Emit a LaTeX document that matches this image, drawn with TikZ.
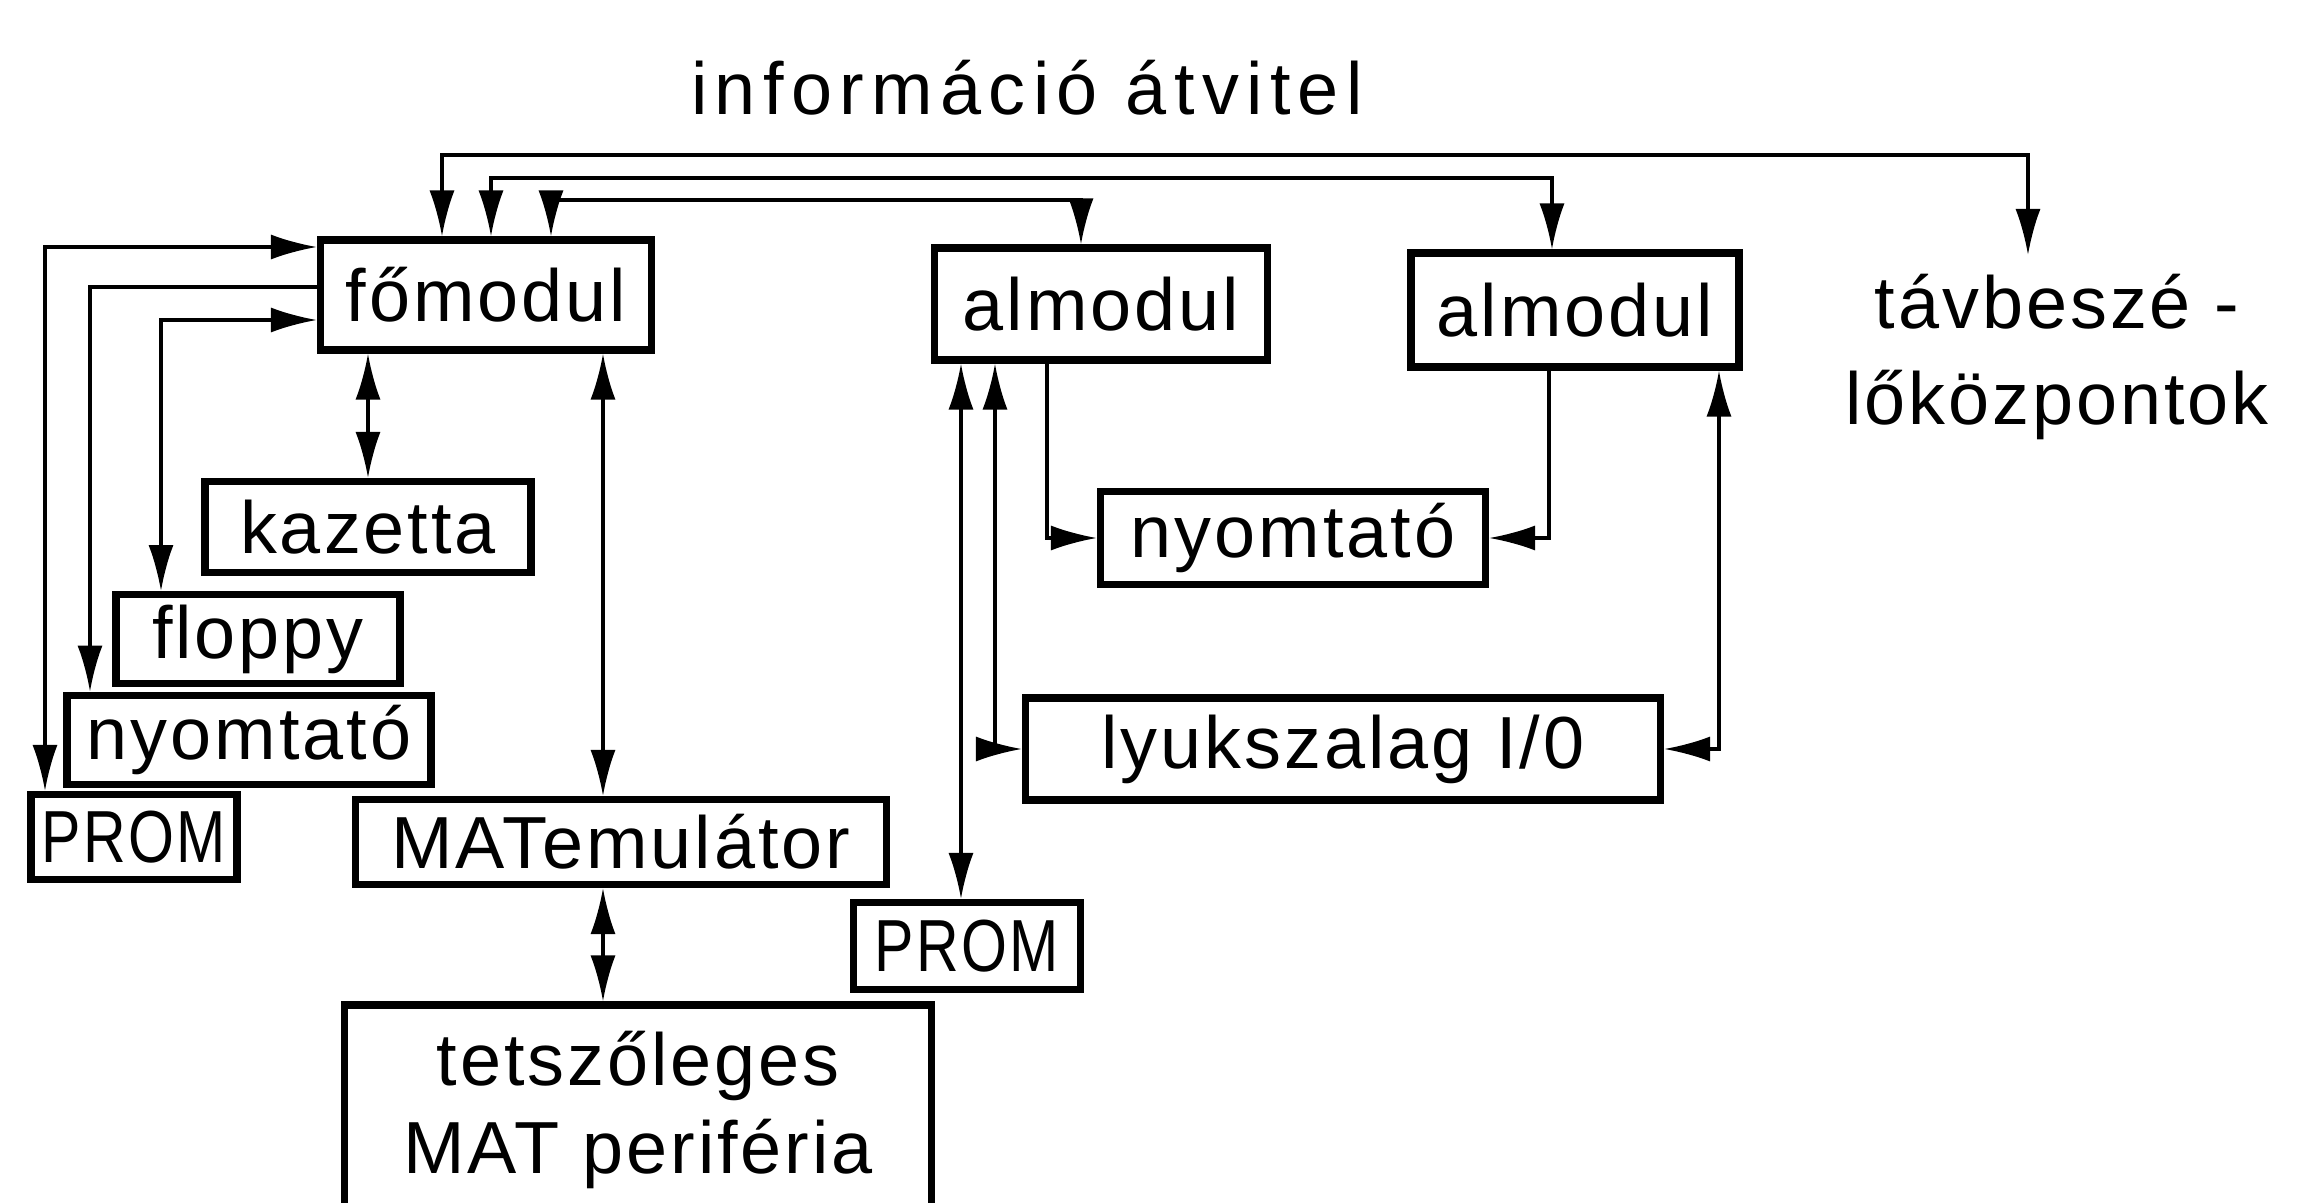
\documentclass[tikz,border=0pt]{standalone}
\usepackage{fontspec}
\setmainfont{Liberation Sans}[LetterSpace=4]
\usepackage{graphicx}
\usetikzlibrary{arrows.meta}

\begin{document}
\begin{tikzpicture}[
    x=0.1mm, y=-0.1mm,
    font=\fontsize{21}{25}\selectfont, >={Latex[length=4.6mm,width=2.5mm]},
    box/.style ={rectangle, draw, line width=2pt, align=center, inner sep=1mm},
    link/.style={line width=0.9pt},
    label/.style={draw=none, align=center, inner sep=0pt},
]
\useasboundingbox (0,0) rectangle (2303,1203);
\node[label, font=\fontsize{21}{25}\selectfont\addfontfeature{LetterSpace=10}] (title) at (1027,88) {információ átvitel};
\node[box, minimum width=33.1mm, minimum height=11mm]   (fomodul)   at (486,295)  {főmodul};
\node[box, minimum width=32.6mm, minimum height=9.1mm]  (kazetta)   at (368,527)  {kazetta};
\node[box, minimum width=28.4mm, minimum height=8.8mm]  (floppy)    at (258,639)  {floppy};
\node[box, minimum width=36.4mm, minimum height=8.4mm]  (nyomtato1) at (249,740)  {nyomtató};
\node[box, minimum width=20.6mm, minimum height=8.5mm]  (prom1)     at (134,837)  {\scalebox{0.8}[1]{PROM}};
\node[box, minimum width=53.1mm, minimum height=8.5mm]  (matemul)   at (621,842)  {MATemulátor};
\node[box, minimum width=58.7mm, minimum height=21mm]   (tetsz)     at (638,1110) {tetszőleges\\MAT periféria};
\node[box, minimum width=33.3mm, minimum height=11.2mm] (almodul1)  at (1101,304) {almodul};
\node[box, minimum width=32.8mm, minimum height=11.4mm] (almodul2)  at (1575,310) {almodul};
\node[box, minimum width=38.5mm, minimum height=9.3mm]  (nyomtato2) at (1293,538) {nyomtató};
\node[box, minimum width=63.5mm, minimum height=10.2mm] (lyuk)      at (1343,749) {lyukszalag I/0};
\node[box, minimum width=22.7mm, minimum height=8.7mm]  (prom2)     at (967,946)  {\scalebox{0.8}[1]{PROM}};
\node[label, anchor=north, inner sep=1.8mm, font=\fontsize{21}{27.5}\selectfont] (tav) at (2057,255) {távbeszé -\\lőközpontok};
\coordinate (bus1) at (0,155);
\coordinate (bus2) at (0,178);
\coordinate (bus3) at (0,200);
\coordinate (tavin) at ([xshift=-2.9mm]tav.north);
\coordinate (al1in) at ([xshift=-2mm]almodul1.north);
\coordinate (al2in) at ([xshift=-2.3mm]almodul2.north);
\coordinate (matin) at ([xshift=-1.8mm]matemul.north);
\coordinate (p2in) at ([xshift=-0.6mm]prom2.north);
\draw[link,<->] ([xshift=-4.4mm]fomodul.north) |- (bus1 -| tavin) -- (tavin);
\draw[link,<->] ([xshift=0.5mm]fomodul.north) |- (bus2 -| al2in) -- (al2in);
\draw[link,<->] ([xshift=6.5mm]fomodul.north) |- (bus3 -| al1in) -- (al1in);
\draw[link,<->] ([yshift=4.8mm]fomodul.west) -| ([xshift=-8.9mm]prom1.north);
\draw[link,->] ([yshift=0.8mm]fomodul.west) -| ([xshift=-15.9mm]nyomtato1.north);
\draw[link,<->] ([yshift=-2.5mm]fomodul.west) -| ([xshift=-9.7mm]floppy.north);
\draw[link,<->] (fomodul.south -| kazetta.north) -- (kazetta.north);
\draw[link,<->] (fomodul.south -| matin) -- (matin);
\draw[link,<->] (matemul.south -| matin) -- (tetsz.north -| matin);
\draw[link,<->] (almodul1.south -| p2in) -- (p2in);
\draw[link,<->] ([xshift=-10.6mm]almodul1.south) |- (lyuk.west);
\draw[link,->] ([xshift=-5.4mm]almodul1.south) |- (nyomtato2.west);
\draw[link,->] ([xshift=-2.6mm]almodul2.south) |- (nyomtato2.east);
\draw[link,<->] ([xshift=14.4mm]almodul2.south) |- (lyuk.east);
\end{tikzpicture}
\end{document}
